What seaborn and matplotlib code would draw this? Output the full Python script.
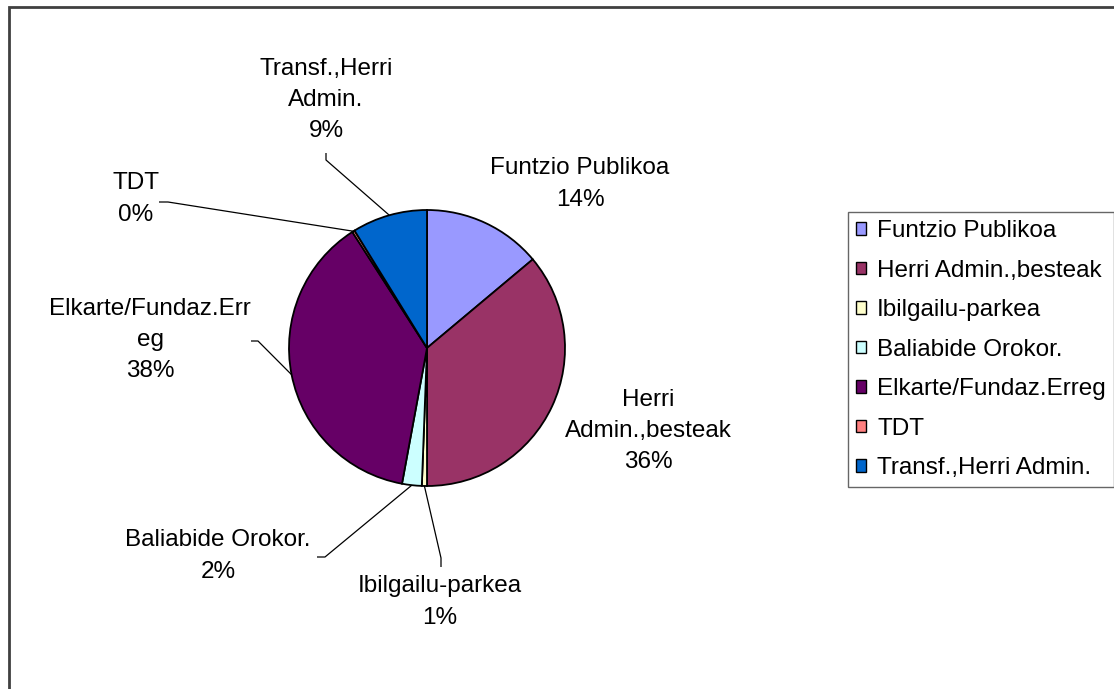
import numpy as np
import seaborn as sns
import matplotlib.pyplot as plt
from matplotlib.patches import Rectangle, Patch

# data (shares, percent)
categories = ['Funtzio Publikoa', 'Herri Admin.,besteak', 'Ibilgailu-parkea',
              'Baliabide Orokor.', 'Elkarte/Fundaz.Erreg', 'TDT',
              'Transf.,Herri Admin.']
shares = [13.9, 36.1, 0.6, 2.3, 38.0, 0.3, 8.8]
slice_labels = ['Funtzio Publikoa', 'Herri\nAdmin.,besteak', 'Ibilgailu-parkea',
                'Baliabide Orokor.', 'Elkarte/Fundaz.Err\neg', 'TDT',
                'Transf.,Herri\nAdmin.']
colors = ['#9999FF', '#993366', '#FFFFCC', '#CCFFFF', '#660066', '#FF8080', '#0066CC']

# layout (pixels of the 1114x689 canvas)
W, H = 1114, 689
center = (427, 348)
radius = 138
label_pos = [(580, 184), (648, 431), (440, 602), (218, 556), (150, 340), (136, 199), (326, 100)]
# elbow of the leader line: (far end, near end), None = no leader
elbows = [None, None, ((441, 567), (441, 558)), ((317, 557), (325, 557)),
          ((251, 341), (258, 341)), ((159, 202), (168, 202)), ((326, 153), (326, 160))]

sns.set_theme(style='white')
plt.rcParams['font.family'] = ['Liberation Sans', 'DejaVu Sans']
plt.rcParams['text.color'] = 'black'
FS = 17.5

fig = plt.figure(figsize=(W / 100, H / 100), dpi=100)
ax = fig.add_axes([0, 0, 1, 1])
ax.set_xlim(0, W)
ax.set_ylim(H, 0)
ax.set_aspect('equal')
ax.axis('off')

# y axis is inverted, so counterclockwise in data is clockwise on screen
wedges, _ = ax.pie(shares, colors=colors, center=center, radius=radius,
                   startangle=-90, counterclock=True,
                   wedgeprops=dict(edgecolor='black', linewidth=1.3))
ax.set_xlim(0, W)
ax.set_ylim(H, 0)

for w, lab, share, pos, elb in zip(wedges, slice_labels, shares, label_pos, elbows):
    ax.text(pos[0], pos[1], f'{lab}\n{round(share):.0f}%', ha='center', va='center',
            fontsize=FS, linespacing=1.55, color='black')
    if elb is not None:
        mid = np.deg2rad((w.theta1 + w.theta2) / 2)
        ax_ = center[0] + radius * np.cos(mid)
        ay_ = center[1] + radius * np.sin(mid)
        ax.plot([elb[0][0], elb[1][0], ax_], [elb[0][1], elb[1][1], ay_],
                color='black', lw=0.9, solid_capstyle='butt')

handles = [Patch(facecolor=c, edgecolor='black', linewidth=1.0) for c in colors]
leg = fig.legend(handles, categories, loc='upper left',
                 bbox_to_anchor=(848 / W, 1 - 212 / H), bbox_transform=fig.transFigure,
                 fontsize=FS, frameon=True, fancybox=False, edgecolor='#404040',
                 handlelength=0.42, handleheight=0.42, handletextpad=0.45,
                 labelspacing=0.72, borderpad=0.33, borderaxespad=0)
leg.get_frame().set_linewidth(1.0)
for t in leg.get_texts():
    t.set_color('black')

# outer chart border (runs off the right and bottom edges)
fig.patches.append(Rectangle((9 / W, -0.05), 1.1, 1 - 7 / H + 0.05, transform=fig.transFigure,
                             fill=False, edgecolor='#404040', linewidth=2.0))

fig.savefig('out.png', dpi=100, facecolor='white')
